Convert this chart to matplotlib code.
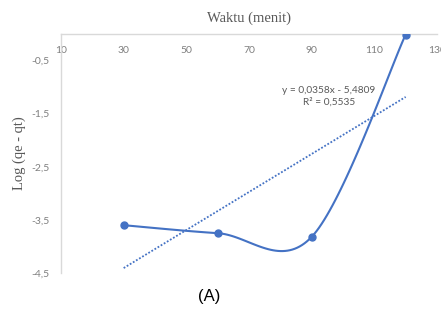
import numpy as np
import matplotlib
matplotlib.use("Agg")
import matplotlib.pyplot as plt

# data
waktu = [30, 60, 90, 120]
log_qe_qt = [-3.60, -3.75, -3.82, -0.01]
x_ticks = [10, 30, 50, 70, 90, 110, 130]
y_ticks = [-4.5, -3.5, -2.5, -1.5, -0.5]
slope, intercept = 0.0358, -5.4809
eq_text = "y = 0,0358x - 5,4809\nR² = 0,5535"

blue = "#4472C4"
grey = "#7f7f7f"


def smooth(xs, ys, n=40):
    # Excel style smoothed line (Catmull-Rom as cubic bezier)
    xs = np.asarray(xs, float)
    ys = np.asarray(ys, float)
    px = np.concatenate([[xs[0]], xs, [xs[-1]]])
    py = np.concatenate([[ys[0]], ys, [ys[-1]]])
    outx, outy = [], []
    t = np.linspace(0, 1, n)
    for i in range(1, len(px) - 2):
        p0 = np.array([px[i], py[i]])
        p3 = np.array([px[i + 1], py[i + 1]])
        p1 = p0 + (np.array([px[i + 1], py[i + 1]]) - np.array([px[i - 1], py[i - 1]])) / 6
        p2 = p3 - (np.array([px[i + 2], py[i + 2]]) - np.array([px[i], py[i]])) / 6
        b = ((1 - t) ** 3)[:, None] * p0 + (3 * (1 - t) ** 2 * t)[:, None] * p1 \
            + (3 * (1 - t) * t ** 2)[:, None] * p2 + (t ** 3)[:, None] * p3
        outx.extend(b[:, 0])
        outy.extend(b[:, 1])
    return outx, outy


fig = plt.figure(figsize=(4.41, 3.14), dpi=100)
ax = fig.add_axes([61 / 441, 1 - 273 / 314, (437 - 61) / 441, (273 - 34) / 314])

sx, sy = smooth(waktu, log_qe_qt)
ax.plot(sx, sy, color=blue, lw=1.5, zorder=3)
ax.plot(waktu, log_qe_qt, "o", color=blue, ms=5, zorder=4)

# linear trendline
tx = np.array([waktu[0], waktu[-1]])
ax.plot(tx, slope * tx + intercept, color=blue, lw=1.3, ls=(0, (1, 1)), zorder=2)

ax.set_xlim(10, 130)
ax.set_ylim(-4.5, 0)
ax.set_xticks(x_ticks)
ax.set_yticks(y_ticks)
ax.set_xticklabels([str(v) for v in x_ticks])
ax.set_yticklabels([("%g" % v).replace(".", ",") for v in y_ticks])

for s in ["right", "bottom"]:
    ax.spines[s].set_visible(False)
for s in ["top", "left"]:
    ax.spines[s].set_color("#d9d9d9")
    ax.spines[s].set_linewidth(1)

ax.xaxis.set_ticks_position("top")
ax.tick_params(axis="x", length=0, pad=-15, labelsize=7.5, labelcolor=grey)
ax.tick_params(axis="y", length=0, pad=8, labelsize=7.5, labelcolor=grey)
for lab in ax.get_xticklabels() + ax.get_yticklabels():
    lab.set_family("Lato")

ax.set_title("Waktu (menit)", family="Liberation Serif", fontsize=10.5,
             color="#595959", pad=9)
ax.set_ylabel("Log (qe - qt)", family="Liberation Serif", fontsize=10.5,
              color="#595959", labelpad=4)

fig.text(329 / 441, 1 - 96 / 314, eq_text, ha="center", va="center",
         fontsize=7.3, color="#595959", family="Lato", linespacing=1.35)
fig.text(209 / 441, 1 - 297 / 314, "(A)", ha="center", va="center",
         fontsize=12, color="black", family="Liberation Sans")

fig.savefig("out.png", dpi=100)
